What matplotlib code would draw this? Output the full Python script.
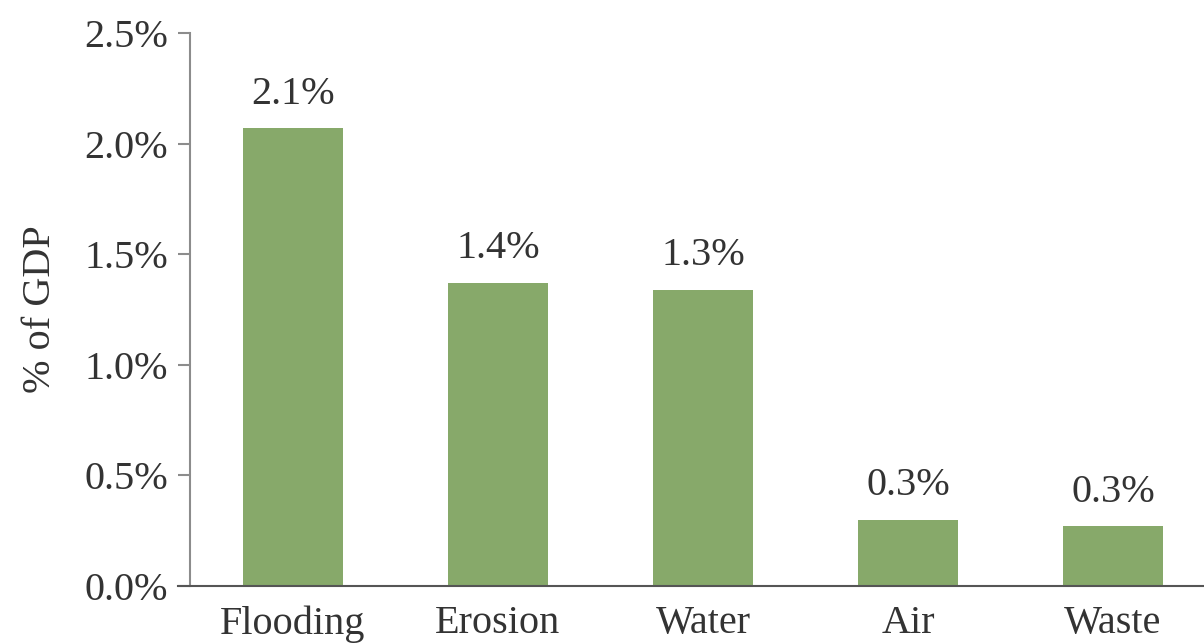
import matplotlib
matplotlib.use("Agg")
import matplotlib.pyplot as plt

# Economic cost of environmental degradation, share of GDP
categories = ["Flooding", "Erosion", "Water", "Air", "Waste"]
values = [2.07, 1.37, 1.34, 0.30, 0.27]
yticks = [0.0, 0.5, 1.0, 1.5, 2.0, 2.5]
ytick_labels = ["0.0%", "0.5%", "1.0%", "1.5%", "2.0%", "2.5%"]

plt.rcParams["font.family"] = ["Liberation Serif", "DejaVu Serif"]
text_color = "#333333"
bar_color = "#87a96a"
fs = 29

fig = plt.figure(figsize=(12.04, 6.44), dpi=100)
ax = fig.add_axes([0.1578, 0.0901, 0.8422, 0.8587])

x = list(range(len(categories)))
bars = ax.bar(x, values, width=0.49, color=bar_color, zorder=2)

for xi, v in zip(x, values):
    ax.text(xi, v + 0.07, f"{v:.1f}%", ha="center", va="bottom",
            fontsize=fs, color=text_color)

ax.set_xlim(-0.502, 4.444)
ax.set_ylim(0, 2.5)
ax.set_yticks(yticks)
ax.set_yticklabels(ytick_labels, fontsize=fs, color=text_color)
ax.set_xticks(x)
ax.set_xticklabels(categories, fontsize=fs, color=text_color)
ax.tick_params(axis="y", length=9, width=1.5, color="#8c8c8c", pad=7)
ax.tick_params(axis="x", length=0, pad=14)

for side in ("top", "right"):
    ax.spines[side].set_visible(False)
ax.spines["left"].set_color("#8c8c8c")
ax.spines["left"].set_linewidth(1.5)
ax.spines["bottom"].set_color("#555555")
ax.spines["bottom"].set_linewidth(1.5)
ax.spines["bottom"].set_bounds(-0.56, 4.444)

ax.set_ylabel("% of GDP", fontsize=fs, color=text_color, labelpad=18)

fig.savefig("out.png", dpi=100)
